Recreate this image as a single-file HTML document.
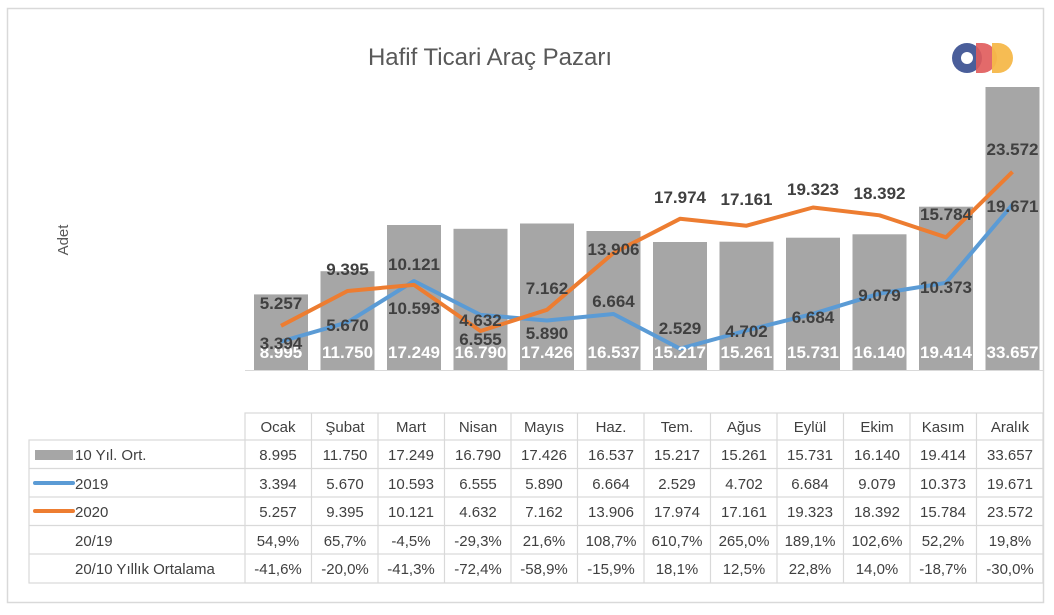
<!DOCTYPE html>
<html><head><meta charset="utf-8"><style>
html,body{margin:0;padding:0;background:#fff;}
svg{display:block;font-family:"Liberation Sans",sans-serif;}
.bl{font-family:"Liberation Sans Narrow","Liberation Sans",sans-serif;font-weight:bold;font-size:17px;text-anchor:middle;}
.t{font-size:15px;fill:#404040;text-anchor:middle;}
</style></head><body>
<svg width="1054" height="615" viewBox="0 0 1054 615">
<rect x="7.5" y="8.5" width="1036" height="594" fill="#fff" stroke="#d9d9d9" stroke-width="1.5"/>
<text x="490" y="65" font-size="24" fill="#595959" text-anchor="middle">Hafif Ticari Araç Pazarı</text>
<text transform="translate(68,240) rotate(-90)" font-size="15" fill="#595959" text-anchor="middle">Adet</text>
<!-- logo -->
<g>
<circle cx="967" cy="58" r="15" fill="#4a5e9a"/><circle cx="967" cy="58" r="6" fill="#fff"/>
<path d="M976 43 h6 a15 15 0 0 1 0 30 h-6z" fill="#e05a5a" opacity="0.9"/>
<path d="M992 43 h6 a15 15 0 0 1 0 30 h-6z" fill="#f5b84a" opacity="0.95"/>
</g>
<line x1="245" y1="370.5" x2="1043" y2="370.5" stroke="#d9d9d9"/>
<g fill="#a6a6a6">
<rect x="254" y="294.4" width="54" height="75.6"/>
<rect x="320.5" y="271.2" width="54" height="98.8"/>
<rect x="387" y="225" width="54" height="145"/>
<rect x="453.5" y="228.8" width="54" height="141.2"/>
<rect x="520" y="223.5" width="54" height="146.5"/>
<rect x="586.5" y="231" width="54" height="139"/>
<rect x="653" y="242" width="54" height="128"/>
<rect x="719.5" y="241.7" width="54" height="128.3"/>
<rect x="786" y="237.7" width="54" height="132.3"/>
<rect x="852.5" y="234.3" width="54" height="135.7"/>
<rect x="919" y="206.7" width="54" height="163.3"/>
<rect x="985.5" y="87" width="54" height="283"/>
</g>
<polyline fill="none" stroke="#5b9bd5" stroke-width="4" stroke-linejoin="round" points="281,341.5 347.5,322.3 414,281 480.5,314.9 547,320.5 613.5,314 680,348.7 746.5,330.5 813,313.8 879.5,293.6 946,282.8 1012.5,204.6"/>
<polyline fill="none" stroke="#ed7d31" stroke-width="4" stroke-linejoin="round" points="281,325.8 347.5,291 414,284.9 480.5,331 547,309.8 613.5,253 680,218.8 746.5,225.7 813,207.5 879.5,215.3 946,237.3 1012.5,171.8"/>
<g class="bl" fill="#fff">
<text x="281" y="358">8.995</text><text x="347.5" y="358">11.750</text><text x="414" y="358">17.249</text><text x="480.5" y="358">16.790</text><text x="547" y="358">17.426</text><text x="613.5" y="358">16.537</text><text x="680" y="358">15.217</text><text x="746.5" y="358">15.261</text><text x="813" y="358">15.731</text><text x="879.5" y="358">16.140</text><text x="946" y="358">19.414</text><text x="1012.5" y="358">33.657</text>
</g>
<g class="bl" fill="#404040">
<text x="281" y="309">5.257</text><text x="347.5" y="275">9.395</text><text x="414" y="270">10.121</text><text x="480.5" y="326">4.632</text><text x="547" y="294">7.162</text><text x="613.5" y="255">13.906</text><text x="680" y="203">17.974</text><text x="746.5" y="205">17.161</text><text x="813" y="195">19.323</text><text x="879.5" y="199">18.392</text><text x="946" y="220">15.784</text><text x="1012.5" y="155">23.572</text>
<text x="281" y="349">3.394</text><text x="347.5" y="331">5.670</text><text x="414" y="314">10.593</text><text x="480.5" y="345">6.555</text><text x="547" y="339">5.890</text><text x="613.5" y="307">6.664</text><text x="680" y="334">2.529</text><text x="746.5" y="337">4.702</text><text x="813" y="323">6.684</text><text x="879.5" y="301">9.079</text><text x="946" y="293">10.373</text><text x="1012.5" y="212">19.671</text>
</g>
<!-- table -->
<g stroke="#d9d9d9" stroke-width="1.2" fill="none">
<rect x="245" y="413" width="798" height="170"/>
<rect x="29" y="440" width="1014" height="143"/>
<line x1="29" y1="468.5" x2="1043" y2="468.5"/><line x1="29" y1="497" x2="1043" y2="497"/><line x1="29" y1="525.5" x2="1043" y2="525.5"/><line x1="29" y1="554" x2="1043" y2="554"/>
<line x1="311.5" y1="413" x2="311.5" y2="583"/><line x1="378" y1="413" x2="378" y2="583"/><line x1="444.5" y1="413" x2="444.5" y2="583"/><line x1="511" y1="413" x2="511" y2="583"/><line x1="577.5" y1="413" x2="577.5" y2="583"/><line x1="644" y1="413" x2="644" y2="583"/><line x1="710.5" y1="413" x2="710.5" y2="583"/><line x1="777" y1="413" x2="777" y2="583"/><line x1="843.5" y1="413" x2="843.5" y2="583"/><line x1="910" y1="413" x2="910" y2="583"/><line x1="976.5" y1="413" x2="976.5" y2="583"/>
</g>
<rect x="35" y="450" width="38" height="10" fill="#a6a6a6"/>
<line x1="35" y1="483" x2="73" y2="483" stroke="#5b9bd5" stroke-width="4" stroke-linecap="round"/>
<line x1="35" y1="511" x2="73" y2="511" stroke="#ed7d31" stroke-width="4" stroke-linecap="round"/>
<g font-size="15" fill="#404040">
<text x="75" y="460">10 Yıl. Ort.</text><text x="75" y="489">2019</text><text x="75" y="517">2020</text><text x="75" y="546">20/19</text><text x="75" y="574">20/10 Yıllık Ortalama</text>
</g>
<g class="t">
<text x="278" y="432">Ocak</text><text x="345" y="432">Şubat</text><text x="411" y="432">Mart</text><text x="478" y="432">Nisan</text><text x="544" y="432">Mayıs</text><text x="611" y="432">Haz.</text><text x="677" y="432">Tem.</text><text x="744" y="432">Ağus</text><text x="810" y="432">Eylül</text><text x="877" y="432">Ekim</text><text x="943" y="432">Kasım</text><text x="1010" y="432">Aralık</text>
<text x="278" y="460">8.995</text><text x="345" y="460">11.750</text><text x="411" y="460">17.249</text><text x="478" y="460">16.790</text><text x="544" y="460">17.426</text><text x="611" y="460">16.537</text><text x="677" y="460">15.217</text><text x="744" y="460">15.261</text><text x="810" y="460">15.731</text><text x="877" y="460">16.140</text><text x="943" y="460">19.414</text><text x="1010" y="460">33.657</text>
<text x="278" y="489">3.394</text><text x="345" y="489">5.670</text><text x="411" y="489">10.593</text><text x="478" y="489">6.555</text><text x="544" y="489">5.890</text><text x="611" y="489">6.664</text><text x="677" y="489">2.529</text><text x="744" y="489">4.702</text><text x="810" y="489">6.684</text><text x="877" y="489">9.079</text><text x="943" y="489">10.373</text><text x="1010" y="489">19.671</text>
<text x="278" y="517">5.257</text><text x="345" y="517">9.395</text><text x="411" y="517">10.121</text><text x="478" y="517">4.632</text><text x="544" y="517">7.162</text><text x="611" y="517">13.906</text><text x="677" y="517">17.974</text><text x="744" y="517">17.161</text><text x="810" y="517">19.323</text><text x="877" y="517">18.392</text><text x="943" y="517">15.784</text><text x="1010" y="517">23.572</text>
<text x="278" y="546">54,9%</text><text x="345" y="546">65,7%</text><text x="411" y="546">-4,5%</text><text x="478" y="546">-29,3%</text><text x="544" y="546">21,6%</text><text x="611" y="546">108,7%</text><text x="677" y="546">610,7%</text><text x="744" y="546">265,0%</text><text x="810" y="546">189,1%</text><text x="877" y="546">102,6%</text><text x="943" y="546">52,2%</text><text x="1010" y="546">19,8%</text>
<text x="278" y="574">-41,6%</text><text x="345" y="574">-20,0%</text><text x="411" y="574">-41,3%</text><text x="478" y="574">-72,4%</text><text x="544" y="574">-58,9%</text><text x="611" y="574">-15,9%</text><text x="677" y="574">18,1%</text><text x="744" y="574">12,5%</text><text x="810" y="574">22,8%</text><text x="877" y="574">14,0%</text><text x="943" y="574">-18,7%</text><text x="1010" y="574">-30,0%</text>
</g>
</svg>
</body></html>
